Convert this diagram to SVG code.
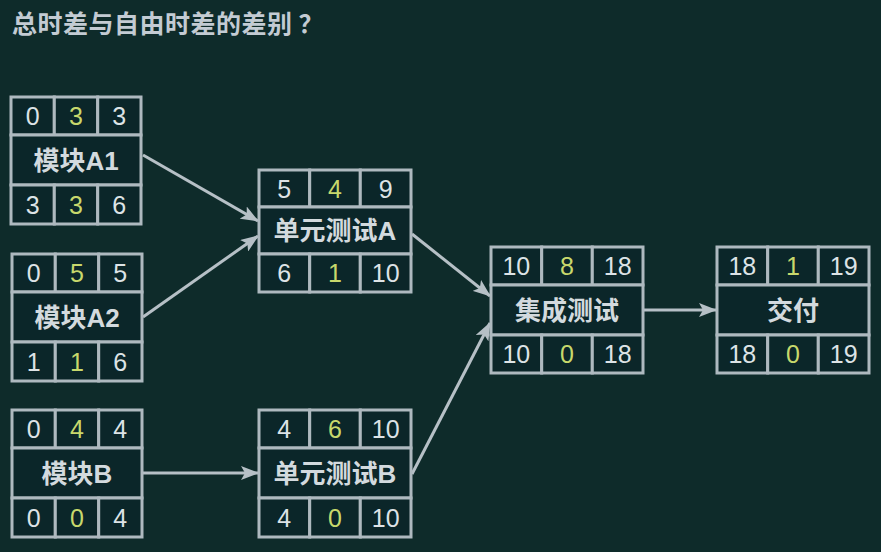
<svg xmlns="http://www.w3.org/2000/svg" width="881" height="552" viewBox="0 0 881 552">
<style>
.cell{fill:#0b2629;stroke:#aeb9bf;stroke-width:3}
.num{font-family:"Liberation Sans","Noto Sans",sans-serif;font-size:25px;fill:#dde3e6;text-anchor:middle}
.hl{fill:#c8d86c}
.lbl{font-family:"Liberation Sans","Noto Sans CJK SC",sans-serif;font-size:26px;font-weight:bold;fill:#d3dade;text-anchor:middle}
.title{font-family:"Noto Sans CJK SC","Liberation Sans",sans-serif;font-size:25px;font-weight:bold;fill:#c3cbd3;letter-spacing:0.5px}
.edge{stroke:#b6c0c6;stroke-width:3;fill:none;marker-end:url(#arr)}
</style>
<defs>
<marker id="arr" markerUnits="userSpaceOnUse" markerWidth="18" markerHeight="14" refX="17" refY="7" orient="auto">
<path d="M0,0 L18,7 L0,14 L4,7 Z" fill="#b6c0c6"/>
</marker>
</defs>
<rect width="881" height="552" fill="#0e2b2a"/>
<text class="title" x="12" y="33">总时差与自由时差的差别<tspan dx="6">？</tspan></text>

<g id="edges">
<line class="edge" x1="143" y1="155" x2="258" y2="221"/>
<line class="edge" x1="143" y1="317" x2="258" y2="236"/>
<line class="edge" x1="412" y1="234" x2="490" y2="296"/>
<line class="edge" x1="412" y1="474" x2="490" y2="323"/>
<line class="edge" x1="643" y1="310" x2="716" y2="310"/>
<line class="edge" x1="142" y1="473" x2="258" y2="473"/>
</g>

<g id="node-A1" transform="translate(11,97)">
<rect class="cell" x="0" y="0" width="43.3" height="38"/><rect class="cell" x="43.3" y="0" width="43.4" height="38"/><rect class="cell" x="86.7" y="0" width="43.3" height="38"/>
<rect class="cell" x="0" y="38" width="130" height="50"/>
<rect class="cell" x="0" y="88" width="43.3" height="39"/><rect class="cell" x="43.3" y="88" width="43.4" height="39"/><rect class="cell" x="86.7" y="88" width="43.3" height="39"/>
<text class="num" x="21.7" y="28">0</text><text class="num hl" x="65" y="28">3</text><text class="num" x="108.3" y="28">3</text>
<text class="lbl" x="65" y="72.5">模块A1</text>
<text class="num" x="21.7" y="116.5">3</text><text class="num hl" x="65" y="116.5">3</text><text class="num" x="108.3" y="116.5">6</text>
</g>

<g id="node-A2" transform="translate(12,254)">
<rect class="cell" x="0" y="0" width="43.3" height="38"/><rect class="cell" x="43.3" y="0" width="43.4" height="38"/><rect class="cell" x="86.7" y="0" width="43.3" height="38"/>
<rect class="cell" x="0" y="38" width="130" height="50"/>
<rect class="cell" x="0" y="88" width="43.3" height="39"/><rect class="cell" x="43.3" y="88" width="43.4" height="39"/><rect class="cell" x="86.7" y="88" width="43.3" height="39"/>
<text class="num" x="21.7" y="28">0</text><text class="num hl" x="65" y="28">5</text><text class="num" x="108.3" y="28">5</text>
<text class="lbl" x="65" y="72.5">模块A2</text>
<text class="num" x="21.7" y="116.5">1</text><text class="num hl" x="65" y="116.5">1</text><text class="num" x="108.3" y="116.5">6</text>
</g>

<g id="node-B" transform="translate(12,410)">
<rect class="cell" x="0" y="0" width="43.3" height="38"/><rect class="cell" x="43.3" y="0" width="43.4" height="38"/><rect class="cell" x="86.7" y="0" width="43.3" height="38"/>
<rect class="cell" x="0" y="38" width="130" height="50"/>
<rect class="cell" x="0" y="88" width="43.3" height="39"/><rect class="cell" x="43.3" y="88" width="43.4" height="39"/><rect class="cell" x="86.7" y="88" width="43.3" height="39"/>
<text class="num" x="21.7" y="28">0</text><text class="num hl" x="65" y="28">4</text><text class="num" x="108.3" y="28">4</text>
<text class="lbl" x="65" y="72.5">模块B</text>
<text class="num" x="21.7" y="116.5">0</text><text class="num hl" x="65" y="116.5">0</text><text class="num" x="108.3" y="116.5">4</text>
</g>

<g id="node-UA" transform="translate(259,170)">
<rect class="cell" x="0" y="0" width="50.7" height="37"/><rect class="cell" x="50.7" y="0" width="50.6" height="37"/><rect class="cell" x="101.3" y="0" width="50.7" height="37"/>
<rect class="cell" x="0" y="37" width="152" height="47"/>
<rect class="cell" x="0" y="84" width="50.7" height="38"/><rect class="cell" x="50.7" y="84" width="50.6" height="38"/><rect class="cell" x="101.3" y="84" width="50.7" height="38"/>
<text class="num" x="25.3" y="27.5">5</text><text class="num hl" x="76" y="27.5">4</text><text class="num" x="126.7" y="27.5">9</text>
<text class="lbl" x="76" y="69.5">单元测试A</text>
<text class="num" x="25.3" y="112">6</text><text class="num hl" x="76" y="112">1</text><text class="num" x="126.7" y="112">10</text>
</g>

<g id="node-UB" transform="translate(259,410)">
<rect class="cell" x="0" y="0" width="50.7" height="38"/><rect class="cell" x="50.7" y="0" width="50.6" height="38"/><rect class="cell" x="101.3" y="0" width="50.7" height="38"/>
<rect class="cell" x="0" y="38" width="152" height="50"/>
<rect class="cell" x="0" y="88" width="50.7" height="39"/><rect class="cell" x="50.7" y="88" width="50.6" height="39"/><rect class="cell" x="101.3" y="88" width="50.7" height="39"/>
<text class="num" x="25.3" y="28">4</text><text class="num hl" x="76" y="28">6</text><text class="num" x="126.7" y="28">10</text>
<text class="lbl" x="76" y="72.5">单元测试B</text>
<text class="num" x="25.3" y="116.5">4</text><text class="num hl" x="76" y="116.5">0</text><text class="num" x="126.7" y="116.5">10</text>
</g>

<g id="node-IT" transform="translate(491,247)">
<rect class="cell" x="0" y="0" width="50.7" height="38"/><rect class="cell" x="50.7" y="0" width="50.6" height="38"/><rect class="cell" x="101.3" y="0" width="50.7" height="38"/>
<rect class="cell" x="0" y="38" width="152" height="50"/>
<rect class="cell" x="0" y="88" width="50.7" height="38"/><rect class="cell" x="50.7" y="88" width="50.6" height="38"/><rect class="cell" x="101.3" y="88" width="50.7" height="38"/>
<text class="num" x="25.3" y="28">10</text><text class="num hl" x="76" y="28">8</text><text class="num" x="126.7" y="28">18</text>
<text class="lbl" x="76" y="72.5">集成测试</text>
<text class="num" x="25.3" y="116">10</text><text class="num hl" x="76" y="116">0</text><text class="num" x="126.7" y="116">18</text>
</g>

<g id="node-JF" transform="translate(717,247)">
<rect class="cell" x="0" y="0" width="50.7" height="38"/><rect class="cell" x="50.7" y="0" width="50.6" height="38"/><rect class="cell" x="101.3" y="0" width="50.7" height="38"/>
<rect class="cell" x="0" y="38" width="152" height="50"/>
<rect class="cell" x="0" y="88" width="50.7" height="38"/><rect class="cell" x="50.7" y="88" width="50.6" height="38"/><rect class="cell" x="101.3" y="88" width="50.7" height="38"/>
<text class="num" x="25.3" y="28">18</text><text class="num hl" x="76" y="28">1</text><text class="num" x="126.7" y="28">19</text>
<text class="lbl" x="76" y="72.5">交付</text>
<text class="num" x="25.3" y="116">18</text><text class="num hl" x="76" y="116">0</text><text class="num" x="126.7" y="116">19</text>
</g>
</svg>
